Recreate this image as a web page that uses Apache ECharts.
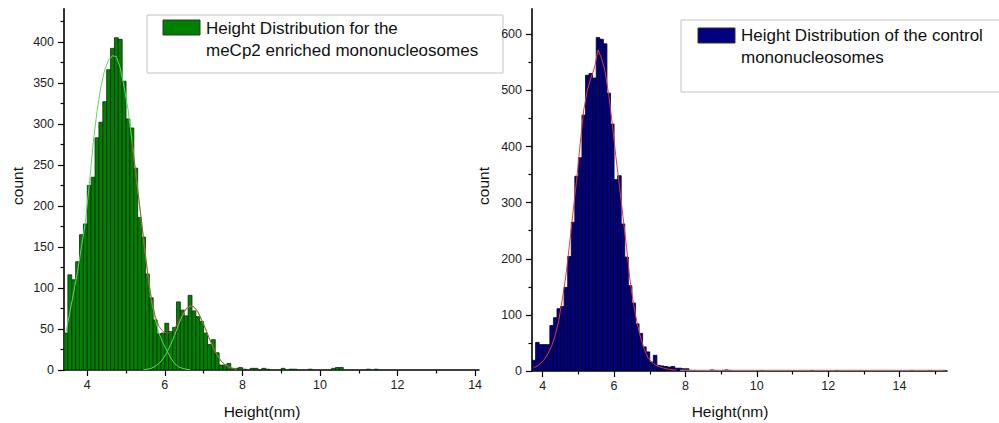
<!DOCTYPE html>
<html>
<head>
<meta charset="utf-8">
<script src="https://cdn.jsdelivr.net/npm/echarts@6/dist/echarts.min.js"></script>
<style>
  html, body { margin: 0; padding: 0; background: #fff; }
  #chart { width: 999px; height: 423px; }
</style>
</head>
<body>
<div id="chart"></div>
<script>
// Histogram bin width (nm)
const BIN_WIDTH = 0.1;

// meCp2 enriched mononucleosomes: counts per 0.1 nm bin, first bin starts at 3.4 nm
const meCp2Start = 3.4;
const meCp2Counts = [
  45, 116, 110, 132, 165, 178,
  225, 235, 283, 302, 327, 366, 392, 405, 403, 352,
  306, 295, 246, 186, 162, 117, 88, 61, 44, 45,
  57, 47, 52, 83, 73, 66, 91, 72, 65, 59,
  45, 31, 37, 21, 6, 6, 8, 2, 2, 3
];
// sparse tail beyond 8 nm
const meCp2TailBins = [8.0, 8.2, 8.3, 8.5, 8.6, 9.0, 9.2, 9.3, 9.7, 10.3, 10.4, 10.5, 11.2, 11.4];
const meCp2TailCounts = [1, 2, 2, 2, 1, 2, 1, 1, 1, 2, 3, 3, 1, 1];

// Gaussian components of the two-peak fit (values at bin centres)
const meCp2Peak1X0 = 3.45;
const meCp2Peak1 = [
  46, 70, 95, 120, 150, 180,
  225, 275, 315, 345, 366, 378, 383, 382, 368, 345,
  318, 280, 240, 200, 160, 120, 86, 62, 45, 33,
  24, 15, 8, 4, 2, 1, 0
];
const meCp2Peak2X0 = 5.45;
const meCp2Peak2 = [
  0.5, 1, 2, 4.5, 8, 13.5, 21, 31, 42, 55,
  66, 74, 78, 77, 71, 61, 50, 38, 27, 18,
  11, 6.5, 3.5, 2, 1
];
// cumulative fit where the two peaks overlap
const meCp2SumX0 = 5.15;
const meCp2Sum = [
  280, 240, 200, 161, 121, 88, 66, 53, 47, 45,
  46, 50, 59, 68, 75, 78, 77, 71, 61, 50,
  38, 27, 18, 11, 6.5, 3.5, 2, 1
];

// control mononucleosomes: counts per 0.1 nm bin, first bin starts at 3.7 nm
const controlStart = 3.7;
const controlCounts = [
  19, 51, 47,
  47, 47, 81, 95, 111, 115, 149, 204, 265, 347,
  380, 456, 527, 530, 522, 594, 591, 583, 495, 440,
  341, 348, 262, 203, 152, 121, 84, 67, 43, 34,
  16, 28, 10, 9, 8, 7, 8, 5, 5, 4,
  4, 1, 1
];
const controlTailBins = [8.7, 8.8, 9.0, 9.1, 9.2, 10.1, 11.5, 12.2, 14.3, 14.8, 15.2];
const controlTailCounts = [2, 1, 1, 2, 1, 1, 1, 1, 1, 1, 1];

// single Gaussian fit of the control distribution (bin centres)
const controlFitX0 = 3.75;
const controlFit = [
  6, 9, 14, 21, 31, 44, 63, 90, 128, 170,
  225, 283, 340, 405, 465, 500, 522, 540, 572, 557,
  533, 492, 440, 382, 330, 275, 220, 160, 118, 84,
  58, 38, 24, 16, 11, 8, 6, 4, 3, 2, 2
];
const controlFitTailX = [7.85, 10, 12, 14, 15.3];
const controlFitTailY = [1.5, 1.5, 1.5, 1.5, 1.5];

// axis tick labels
const meCp2XLabels = [4, 6, 8, 10, 12, 14];
const meCp2XMinor = [5, 7, 9, 11, 13];
const meCp2YLabels = [0, 50, 100, 150, 200, 250, 300, 350, 400];
const meCp2YMinor = [25, 75, 125, 175, 225, 275, 325, 375, 425];
const controlXLabels = [4, 6, 8, 10, 12, 14];
const controlXMinor = [5, 7, 9, 11, 13, 15];
const controlYLabels = [0, 100, 200, 300, 400, 500, 600];
const controlYMinor = [50, 150, 250, 350, 450, 550];

const FONT = '"Liberation Sans", Arial, sans-serif';
const round1 = v => Math.round(v * 100) / 100;

function binData(start, counts, tailBins, tailCounts) {
  const d = counts.map((c, i) => [round1(start + i * BIN_WIDTH), c]);
  tailBins.forEach((b, i) => d.push([b, tailCounts[i]]));
  return d;
}
function curveData(x0, ys) {
  return ys.map((y, i) => [round1(x0 + i * BIN_WIDTH), y]);
}
function histogramItem(fill, stroke) {
  return function (params, api) {
    const x0 = api.value(0);
    const v = api.value(1);
    if (!v) return null;
    const p0 = api.coord([x0, v]);
    const p1 = api.coord([x0 + BIN_WIDTH, 0]);
    return {
      type: 'rect',
      shape: { x: p0[0], y: p0[1], width: p1[0] - p0[0], height: p1[1] - p0[1] },
      style: { fill: fill, stroke: stroke, lineWidth: 0.8 }
    };
  };
}

function mainX(grid, min, max, labels) {
  return {
    type: 'value', gridIndex: grid, min: min, max: max,
    axisLine: { show: true, onZero: false, lineStyle: { color: '#000', width: 1.5 } },
    axisTick: { show: true, customValues: labels, length: 6, lineStyle: { color: '#000', width: 1.2 } },
    axisLabel: { customValues: labels, margin: 8, fontFamily: FONT, fontSize: 12.5, color: '#222' },
    splitLine: { show: false }
  };
}
function minorX(grid, min, max, ticks) {
  return {
    type: 'value', gridIndex: grid, min: min, max: max, position: 'bottom',
    axisLine: { show: false, onZero: false },
    axisTick: { show: true, customValues: ticks, length: 3.5, lineStyle: { color: '#000', width: 1.2 } },
    axisLabel: { show: false },
    splitLine: { show: false }
  };
}
function mainY(grid, max, labels) {
  return {
    type: 'value', gridIndex: grid, min: 0, max: max,
    axisLine: { show: true, onZero: false, lineStyle: { color: '#333', width: 2 } },
    axisTick: { show: true, customValues: labels, length: 6, lineStyle: { color: '#000', width: 1.2 } },
    axisLabel: { customValues: labels, margin: 10, fontFamily: FONT, fontSize: 12.5, color: '#222' },
    splitLine: { show: false }
  };
}
function minorY(grid, max, ticks) {
  return {
    type: 'value', gridIndex: grid, min: 0, max: max, position: 'left',
    axisLine: { show: false, onZero: false },
    axisTick: { show: true, customValues: ticks, length: 3.5, lineStyle: { color: '#000', width: 1.2 } },
    axisLabel: { show: false },
    splitLine: { show: false }
  };
}

function legendBox(x, y, w, h, swatch, fill, lines) {
  const children = [
    { type: 'rect', shape: { x: x, y: y, width: w, height: h },
      style: { fill: '#fff', stroke: '#c4c4c4', lineWidth: 1 } },
    { type: 'rect', shape: swatch, style: { fill: fill, stroke: '#333', lineWidth: 1 } }
  ];
  lines.forEach(l => children.push({
    type: 'text', x: l.x, y: l.y,
    style: { text: l.text, fontFamily: FONT, fontSize: 17, fill: '#111',
             textAlign: 'left', textVerticalAlign: 'middle' }
  }));
  return { type: 'group', children: children };
}
function axisName(text, x, y, rotate) {
  return {
    type: 'text', x: x, y: y, rotation: rotate ? Math.PI / 2 : 0,
    style: { text: text, fontFamily: FONT, fontSize: 15.5, fill: '#111',
             textAlign: 'center', textVerticalAlign: 'middle' }
  };
}

const chart = echarts.init(document.getElementById('chart'), null, { renderer: 'svg' });

chart.setOption({
  animation: false,
  backgroundColor: '#fff',
  grid: [
    { left: 64, top: 9, width: 415, height: 361 },
    { left: 532, top: 9, width: 415, height: 362 }
  ],
  xAxis: [
    mainX(0, 3.4, 14.1, meCp2XLabels),
    minorX(0, 3.4, 14.1, meCp2XMinor),
    mainX(1, 3.7, 15.33, controlXLabels),
    minorX(1, 3.7, 15.33, controlXMinor)
  ],
  yAxis: [
    mainY(0, 440, meCp2YLabels),
    minorY(0, 440, meCp2YMinor),
    mainY(1, 645, controlYLabels),
    minorY(1, 645, controlYMinor)
  ],
  series: [
    {
      type: 'custom', name: 'meCp2', xAxisIndex: 0, yAxisIndex: 0,
      renderItem: histogramItem('#008000', '#0e2a0e'),
      encode: { x: 0, y: 1 }, clip: true,
      data: binData(meCp2Start, meCp2Counts, meCp2TailBins, meCp2TailCounts)
    },
    {
      type: 'line', xAxisIndex: 0, yAxisIndex: 0, showSymbol: false, silent: true,
      lineStyle: { color: '#5fd85f', width: 1 },
      data: curveData(meCp2Peak1X0, meCp2Peak1)
    },
    {
      type: 'line', xAxisIndex: 0, yAxisIndex: 0, showSymbol: false, silent: true,
      lineStyle: { color: '#5fd85f', width: 1 },
      data: curveData(meCp2Peak2X0, meCp2Peak2)
    },
    {
      type: 'line', xAxisIndex: 0, yAxisIndex: 0, showSymbol: false, silent: true,
      lineStyle: { color: '#b83a3a', width: 1, opacity: 0.85 },
      data: curveData(meCp2SumX0, meCp2Sum)
    },
    {
      type: 'custom', name: 'control', xAxisIndex: 2, yAxisIndex: 2,
      renderItem: histogramItem('#000080', '#000022'),
      encode: { x: 0, y: 1 }, clip: true,
      data: binData(controlStart, controlCounts, controlTailBins, controlTailCounts)
    },
    {
      type: 'line', xAxisIndex: 2, yAxisIndex: 2, showSymbol: false, silent: true,
      lineStyle: { color: '#e03a3a', width: 1 },
      data: curveData(controlFitX0, controlFit)
    },
    {
      type: 'line', xAxisIndex: 2, yAxisIndex: 2, showSymbol: false, silent: true,
      lineStyle: { color: '#e88a8a', width: 1 },
      data: controlFitTailX.map((x, i) => [x, controlFitTailY[i]])
    }
  ],
  graphic: [
    legendBox(147, 15, 356, 58, { x: 163, y: 20, width: 37, height: 15 }, '#008000', [
      { text: 'Height Distribution for the', x: 206, y: 28 },
      { text: 'meCp2 enriched mononucleosomes', x: 206, y: 50 }
    ]),
    legendBox(681, 20, 330, 72, { x: 698, y: 28, width: 37, height: 15 }, '#000080', [
      { text: 'Height Distribution of the control', x: 741, y: 35 },
      { text: 'mononucleosomes', x: 741, y: 57 }
    ]),
    axisName('count', 17, 186, true),
    axisName('Height(nm)', 262, 411, false),
    axisName('count', 483, 186, true),
    axisName('Height(nm)', 730, 411, false)
  ]
});
</script>
</body>
</html>
